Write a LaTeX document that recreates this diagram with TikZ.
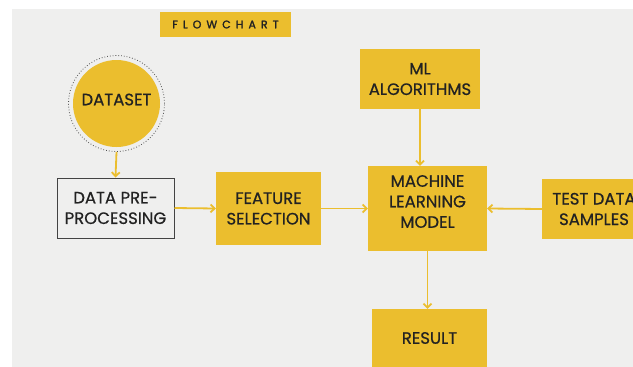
\documentclass[tikz,border=0pt]{standalone}
\usepackage{fontspec}
\setmainfont{Poppins}[FakeBold=0.6]
\newfontfamily\titlefont{Poppins}[LetterSpace=46,FakeBold=1.8]
\usetikzlibrary{arrows.meta}
\definecolor{bg}{HTML}{EFEFEE}
\definecolor{ylw}{HTML}{EBBE2E}
\definecolor{txt}{HTML}{222222}
\begin{document}
\begin{tikzpicture}[x=1pt,y=-1pt,
  boxtext/.style={align=center,text=txt,font=\fontsize{16.5}{20.5}\selectfont},
  ybox/.style={fill=ylw,draw=none,inner sep=0pt,boxtext},
  conn/.style={draw=ylw,line width=1.8pt,-{Straight Barb[length=4pt,width=8pt]}}]
\useasboundingbox (0,0) rectangle (633,367);
\fill[white] (0,0) rectangle (633,367);
\fill[bg] (12,9) rectangle (633,367);
\begin{scope}
\clip (12,9) rectangle (633,367);
\node[fill=ylw,minimum width=131pt,minimum height=25pt,inner sep=0pt,text=txt,font=\titlefont\fontsize{11}{11}\selectfont] (title) at (225.5,24.5) {FLOWCHART};
\node[draw=txt!80,dotted,line width=0.8pt,circle,minimum size=96pt,inner sep=0pt] (dsring) at (116.5,103.5) {};
\node[ybox,circle,minimum size=87pt,label={[boxtext,yshift=4pt]center:DATASET}] (ds) at (116.5,103.5) {};
\node[draw=txt!85,line width=1pt,fill=bg,minimum width=117pt,minimum height=60pt,inner sep=0pt,boxtext] (pre) at (115.5,208) {DATA PRE-\\PROCESSING};
\node[ybox,minimum width=105pt,minimum height=73pt] (feat) at (268.5,208.5) {FEATURE\\SELECTION};
\node[ybox,minimum width=120pt,minimum height=60pt] (alg) at (420,79) {ML\\ALGORITHMS};
\node[ybox,minimum width=119pt,minimum height=85pt,label={[boxtext,yshift=7pt]center:MACHINE\\LEARNING\\MODEL}] (model) at (427.5,208.5) {};
\node[ybox,minimum width=104pt,minimum height=60pt] (test) at (594,209) {TEST DATA\\SAMPLES};
\node[ybox,minimum width=115pt,minimum height=58pt] (res) at (429.5,338) {RESULT};
\draw[conn] (dsring.south) -- (pre.north);
\draw[conn] (pre.east) -- (feat.west);
\draw[conn] (feat.east) -- (model.west);
\draw[conn] (alg.south) -- (alg.south |- model.north);
\draw[conn] (test.west) -- (model.east);
\draw[conn] (model.south) -- (model.south |- res.north);
\end{scope}
\end{tikzpicture}
\end{document}
